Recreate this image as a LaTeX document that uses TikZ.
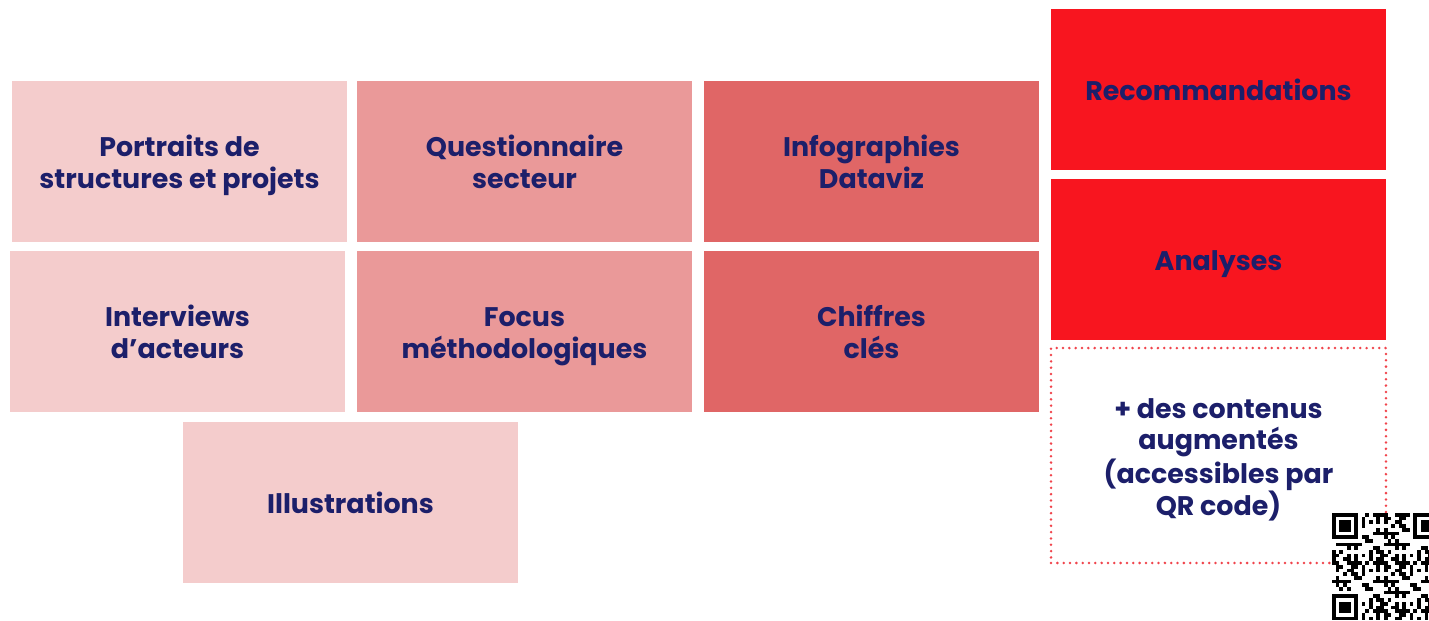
\documentclass[tikz,border=0pt]{standalone}
\usepackage{fontspec}
\setmainfont{Poppins}
\usetikzlibrary{positioning}
\definecolor{encre}{HTML}{1C1F6A}
\definecolor{rosepale}{HTML}{F4CCCC}
\definecolor{rosemoyen}{HTML}{EA9999}
\definecolor{rosefonce}{HTML}{E06666}
\definecolor{rouge}{HTML}{F8151F}
\definecolor{pointille}{HTML}{F0444C}
\newcommand\haut{\rule{0pt}{18.3pt}}

\begin{document}
\begin{tikzpicture}[x=0.02cm,y=-0.02cm,
	bloc/.style={minimum width=6.7cm,minimum height=3.22cm,inner sep=0pt,align=center,
		text=encre,font=\fontsize{15.3}{18.1}\selectfont\bfseries},
	pale/.style={bloc,fill=rosepale},
	moyen/.style={bloc,fill=rosemoyen},
	fonce/.style={bloc,fill=rosefonce},
	vif/.style={bloc,fill=rouge},
	plus/.style={bloc,minimum height=4.3cm,draw=pointille,line width=1.6pt,
		dash pattern=on 0pt off 3.6pt,line cap=round}]
	\useasboundingbox (0,0) rectangle (1429,620);
	% colonne 1
	\node[pale] (portraits) at (179.5,161.5) {\haut Portraits de\\structures et projets\strut};
	\node[pale] (interviews) at (177.5,331.5) {\haut Interviews\\d’acteurs\strut};
	\node[pale] (illus) at (350.5,502.5) {\haut Illustrations\strut};
	% colonne 2
	\node[moyen] (questionnaire) at (524.5,161.5) {\haut Questionnaire\\secteur\strut};
	\node[moyen] (focus) at (524.5,331.5) {\haut Focus\\méthodologiques\strut};
	% colonne 3
	\node[fonce] (infographies) at (871.5,161.5) {\haut Infographies\\Dataviz\strut};
	\node[fonce] (chiffres) at (871.5,331.5) {\haut Chiffres\\clés\strut};
	% colonne 4
	\node[vif] (recos) at (1218.5,89.5) {\haut Recommandations\strut};
	\node[vif] (analyses) at (1218.5,259.5) {\haut Analyses\strut};
	\node[plus] (contenus) at (1218.5,455.5) {\haut + des contenus\\augmentés\\(accessibles par\\QR code)\strut};
	% QR code
	\begin{scope}
		\clip (0,0) rectangle (1429,620);
		\fill[white] (1332,513) rectangle ++(107.3,107.3);
		\foreach \i in {0,...,28}{
			\foreach \j in {0,...,28}{
				\pgfmathtruncatemacro\bit{mod(\i*\i*3+\j*\j*5+\i*\j*7+\i*11+\j*2,13)<6}
				\ifnum\bit=1
					\fill[black] (1332+\i*3.7,513+\j*3.7) rectangle ++(3.75,3.75);
				\fi
			}
		}
		\foreach \cx/\cy in {0/0,21/0,0/21}{
			\fill[white] (1332+\cx*3.7,513+\cy*3.7) rectangle ++(8*3.7,8*3.7);
		}
		\foreach \cx/\cy in {0/0,22/0,0/22}{
			\fill[black] (1332+\cx*3.7,513+\cy*3.7) rectangle ++(7*3.7,7*3.7);
			\fill[white] (1332+\cx*3.7+3.7,513+\cy*3.7+3.7) rectangle ++(5*3.7,5*3.7);
			\fill[black] (1332+\cx*3.7+7.4,513+\cy*3.7+7.4) rectangle ++(3*3.7,3*3.7);
		}
	\end{scope}
\end{tikzpicture}
\end{document}
